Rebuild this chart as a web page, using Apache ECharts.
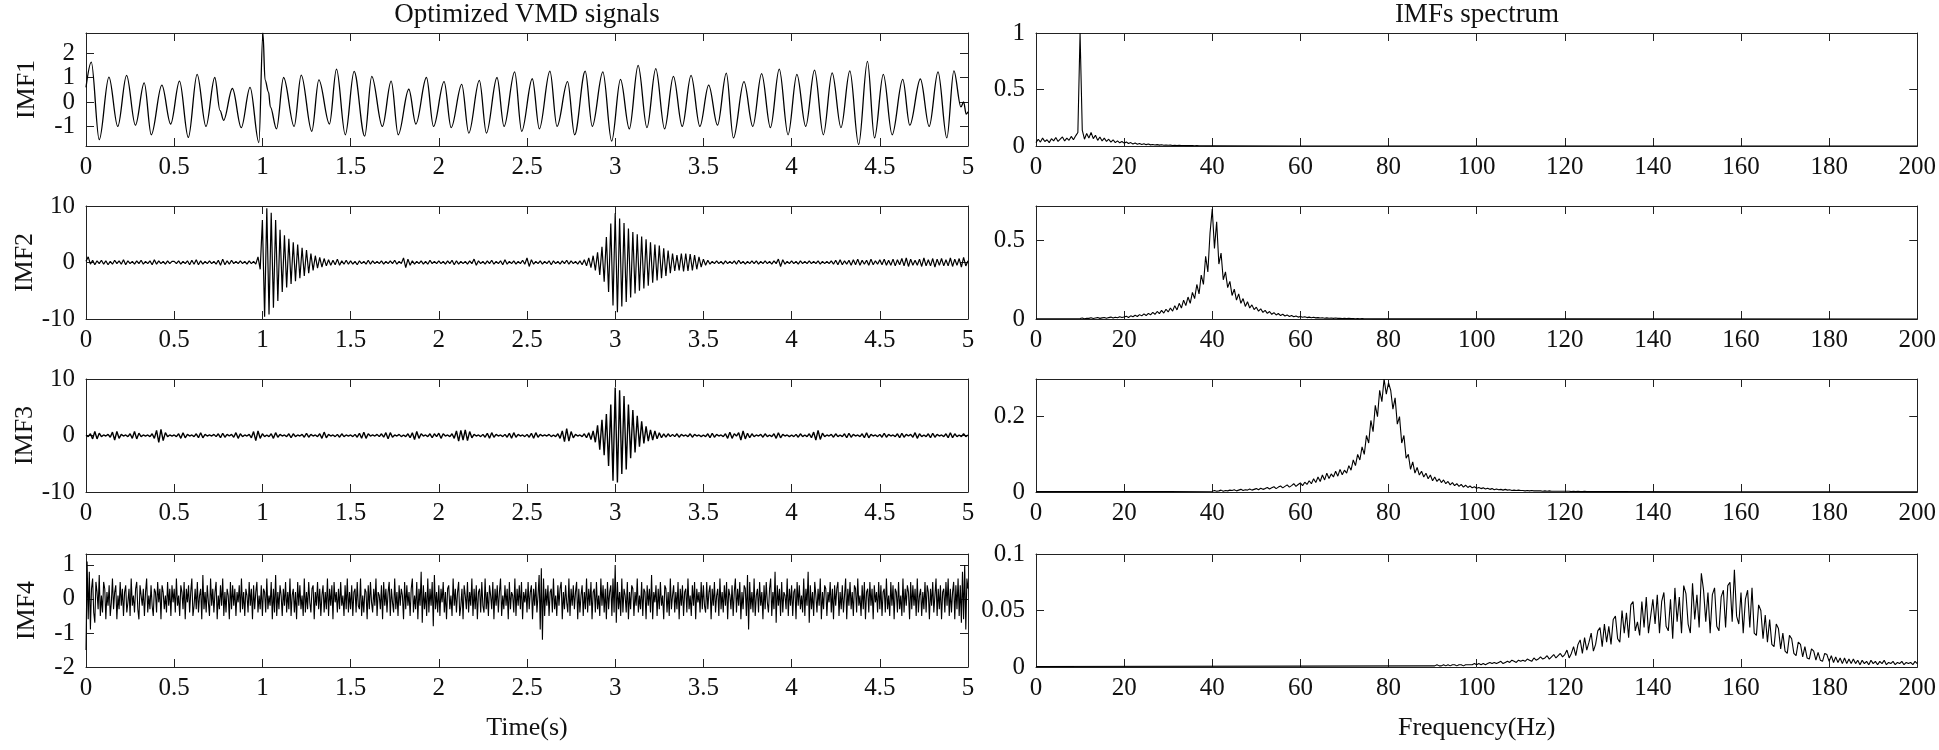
<!DOCTYPE html>
<html>
<head>
<meta charset="utf-8">
<script src="https://cdn.jsdelivr.net/npm/echarts@6/dist/echarts.min.js"></script>
<style>
html,body{margin:0;padding:0;background:#fff;}
#chart{width:1939px;height:750px;}
</style>
</head>
<body>
<div id="chart"></div>
<script>
// ---------------- DATA ----------------
const panelNamesLeft = ['IMF1', 'IMF2', 'IMF3', 'IMF4'];
const titleLeft = 'Optimized VMD signals';
const titleRight = 'IMFs spectrum';
const xNameLeft = 'Time(s)';
const xNameRight = 'Frequency(Hz)';

// y tick labels
const imf1Ticks = [-1, 0, 1, 2];
const imf2Ticks = [-10, 0, 10];
const imf3Ticks = [-10, 0, 10];
const imf4Ticks = [-2, -1, 0, 1];
const spec1Ticks = [0, 0.5, 1];
const spec2Ticks = [0, 0.5];
const spec3Ticks = [0, 0.2];
const spec4Ticks = [0, 0.05, 0.1];

// y ranges
const imf1Range = [-1.8, 2.82];
const imf2Range = [-10, 10];
const imf3Range = [-10, 10];
const imf4Range = [-2, 1.32];
const spec1Range = [0, 1];
const spec2Range = [0, 0.72];
const spec3Range = [0, 0.3];
const spec4Range = [0, 0.1];

// IMF1: [time, value] at its peaks and troughs
const imf1 = [[0,0.6],[0.03,1.63],[0.075,-1.54],[0.13,1.02],[0.18,-1.0],[0.23,1.09],[0.28,-0.95],[0.33,0.78],[0.37,-1.34],[0.43,0.69],[0.48,-0.9],[0.53,0.85],[0.58,-1.45],[0.63,1.13],[0.68,-1.0],[0.73,1.0],[0.76,-0.35],[0.78,-0.75],[0.83,0.55],[0.88,-1.05],[0.93,0.6],[0.98,-1.66],[1.003,2.82],[1.015,0.9],[1.035,0.4],[1.045,-0.2],[1.08,-1.1],[1.12,1.0],[1.18,-1.0],[1.22,1.1],[1.28,-1.2],[1.32,0.9],[1.38,-0.9],[1.42,1.34],[1.47,-1.34],[1.52,1.25],[1.58,-1.4],[1.62,1.05],[1.68,-1.0],[1.73,0.85],[1.77,-1.34],[1.83,0.52],[1.87,-0.9],[1.93,1.0],[1.97,-1.0],[2.03,0.83],[2.07,-1.05],[2.13,0.72],[2.17,-1.27],[2.23,0.88],[2.27,-1.27],[2.33,1.0],[2.37,-1.0],[2.43,1.23],[2.47,-1.2],[2.53,0.95],[2.57,-1.1],[2.63,1.26],[2.67,-1.0],[2.73,0.83],[2.77,-1.34],[2.83,1.26],[2.87,-1.0],[2.93,1.23],[2.98,-1.6],[3.03,0.92],[3.08,-1.1],[3.13,1.5],[3.18,-1.05],[3.23,1.36],[3.28,-1.1],[3.33,1.05],[3.38,-1.0],[3.43,1.09],[3.48,-1.0],[3.53,0.69],[3.58,-0.95],[3.63,1.18],[3.67,-1.47],[3.73,0.83],[3.78,-1.0],[3.83,1.16],[3.88,-1.05],[3.93,1.34],[3.98,-1.34],[4.03,1.13],[4.08,-1.0],[4.13,1.3],[4.18,-1.34],[4.23,1.19],[4.28,-1.05],[4.33,1.27],[4.38,-1.74],[4.43,1.66],[4.47,-1.47],[4.52,1.13],[4.57,-1.34],[4.63,0.92],[4.67,-0.95],[4.73,0.94],[4.78,-1.0],[4.83,1.23],[4.88,-1.47],[4.92,1.27],[4.96,-0.2],[4.975,0.0],[4.99,-0.5],[5.0,-0.4]];

// IMF2, IMF3: samples every 0.0125 s, one row = 0.5 s
const imfStep = 0.0125;
const imf2 = [
0.2,1.0,-0.3,0.4,-0.4,0.3,-0.2,0.4,-0.3,0.3,-0.4,0.2,-0.3,0.4,-0.2,0.3,-0.3,0.5,-0.4,0.3,-0.2,0.2,-0.3,0.3,-0.2,0.4,-0.3,0.2,-0.2,0.3,-0.4,0.5,-0.3,0.3,-0.2,0.2,-0.3,0.3,-0.2,0.2,
0.2,-0.2,0.3,-0.3,0.2,-0.2,0.3,-0.4,0.4,-0.3,0.5,-0.4,0.3,-0.3,0.2,-0.2,0.3,-0.2,0.2,-0.3,0.4,-0.5,0.6,-0.4,0.3,-0.3,0.4,-0.2,0.2,-0.2,0.3,-0.2,0.2,-0.3,0.3,-0.2,0.2,-0.3,1.0,-1.2,
7.5,-9.6,9.6,-9.2,8.8,-8.0,7.5,-6.8,5.8,-5.2,4.8,-4.4,4.2,-3.8,3.6,-3.3,3.2,-2.8,2.6,-2.4,2.2,-1.9,1.6,-1.4,1.2,-1.0,0.9,-0.8,0.7,-0.6,0.5,-0.5,0.4,-0.4,0.6,-0.5,0.3,-0.3,0.4,-0.3,
0.3,-0.3,0.2,-0.4,0.3,-0.2,0.2,-0.3,0.4,-0.3,0.3,-0.2,0.2,-0.2,0.3,-0.3,0.2,-0.2,0.3,-0.2,0.4,-0.3,0.2,-0.2,0.8,-0.9,0.6,-0.5,0.3,-0.3,0.2,-0.2,0.3,-0.3,0.2,-0.3,0.4,-0.2,0.2,-0.2,
0.3,-0.2,0.2,-0.3,0.3,-0.2,0.4,-0.4,0.3,-0.3,0.2,-0.2,0.2,-0.3,0.3,-0.2,0.6,-0.5,0.3,-0.2,0.2,-0.3,0.3,-0.2,0.4,-0.3,0.2,-0.2,0.3,-0.4,0.5,-0.3,0.2,-0.2,0.3,-0.3,0.2,-0.2,0.4,-0.3,
0.8,-0.7,0.5,-0.3,0.2,-0.2,0.3,-0.3,0.2,-0.2,0.3,-0.4,0.3,-0.2,0.2,-0.3,0.3,-0.2,0.4,-0.3,0.3,-0.2,0.2,-0.3,0.3,-0.4,0.5,-0.6,0.8,-0.9,1.2,-1.4,1.8,-2.2,2.8,-3.4,4.5,-5.2,6.9,-7.6,
8.7,-8.8,7.8,-7.8,7.0,-7.0,6.0,-6.2,5.4,-5.5,5.0,-5.0,4.6,-4.6,4.1,-4.1,3.6,-3.6,3.2,-3.2,3.0,-2.8,2.5,-2.4,2.1,-1.9,1.6,-1.5,1.3,-1.4,1.6,-1.6,1.6,-1.5,1.5,-1.4,1.3,-1.2,1.0,-0.8,
0.6,-0.5,0.4,-0.3,0.2,-0.2,0.3,-0.2,0.2,-0.3,0.3,-0.2,0.2,-0.2,0.3,-0.3,0.4,-0.2,0.2,-0.3,0.2,-0.2,0.3,-0.2,0.3,-0.3,0.2,-0.2,0.3,-0.2,0.2,-0.3,0.3,-0.2,0.6,-0.7,0.5,-0.3,0.2,-0.2,
0.3,-0.2,0.2,-0.3,0.3,-0.2,0.2,-0.2,0.3,-0.2,0.2,-0.2,0.3,-0.3,0.2,-0.2,0.2,-0.2,0.3,-0.3,0.4,-0.4,0.5,-0.4,0.3,-0.3,0.4,-0.5,0.5,-0.4,0.6,-0.5,0.4,-0.3,0.4,-0.5,0.6,-0.4,0.3,-0.3,
0.5,-0.4,0.6,-0.5,0.4,-0.5,0.6,-0.6,0.5,-0.4,0.7,-0.6,0.8,-0.7,0.6,-0.5,0.4,-0.5,0.6,-0.7,0.8,-0.6,0.5,-0.6,0.7,-0.8,0.6,-0.5,0.7,-0.6,0.5,-0.6,0.8,-0.7,0.6,-0.5,0.7,-0.8,0.9,-0.6,
0.3];

const imf3 = [
0.1,-0.2,0.3,-0.6,0.7,-0.6,0.4,-0.2,0.1,-0.1,0.2,-0.3,0.6,-0.8,0.7,-0.5,0.2,-0.1,0.1,-0.2,0.3,-0.5,0.7,-0.6,0.4,-0.2,0.1,-0.1,0.1,-0.2,0.3,-0.5,0.9,-1.2,1.1,-0.9,0.5,-0.2,0.1,-0.1,
0.1,-0.2,0.3,-0.5,0.5,-0.4,0.2,-0.1,0.1,-0.2,0.3,-0.4,0.5,-0.4,0.2,-0.1,0.1,-0.1,0.2,-0.2,0.3,-0.4,0.4,-0.3,0.2,-0.1,0.2,-0.3,0.5,-0.5,0.3,-0.2,0.1,-0.1,0.2,-0.4,0.7,-0.9,0.8,-0.5,
0.3,-0.2,0.1,-0.2,0.3,-0.5,0.5,-0.3,0.2,-0.1,0.1,-0.2,0.3,-0.4,0.3,-0.2,0.1,-0.1,0.2,-0.3,0.4,-0.3,0.2,-0.1,0.1,-0.2,0.3,-0.5,0.6,-0.4,0.2,-0.1,0.1,-0.2,0.2,-0.3,0.3,-0.2,0.1,-0.1,
0.1,-0.2,0.2,-0.3,0.4,-0.5,0.6,-0.5,0.3,-0.1,0.1,-0.1,0.2,-0.2,0.3,-0.3,0.5,-0.6,0.5,-0.3,0.1,-0.1,0.2,-0.2,0.1,-0.2,0.3,-0.4,0.5,-0.7,0.7,-0.5,0.3,-0.1,0.1,-0.2,0.3,-0.4,0.3,-0.2,
0.4,-0.5,0.3,-0.1,0.1,-0.2,0.3,-0.5,0.8,-1.0,0.9,-0.8,1.0,-0.9,0.7,-0.4,0.2,-0.1,0.1,-0.2,0.2,-0.3,0.4,-0.5,0.5,-0.3,0.2,-0.1,0.1,-0.2,0.2,-0.3,0.4,-0.5,0.5,-0.3,0.2,-0.1,0.1,-0.2,
0.2,-0.3,0.4,-0.5,0.5,-0.3,0.2,-0.1,0.1,-0.1,0.2,-0.2,0.1,-0.2,0.3,-0.5,0.8,-1.1,1.2,-1.0,0.7,-0.4,0.2,-0.1,0.1,-0.2,0.3,-0.4,0.5,-0.7,0.8,-1.2,1.8,-2.5,2.8,-3.5,3.8,-5.4,5.5,-8.0,
8.5,-8.3,8.0,-6.8,7.0,-6.0,5.5,-4.0,4.5,-3.0,3.5,-2.0,2.5,-1.4,1.6,-1.0,1.0,-0.8,0.8,-0.6,0.5,-0.4,0.3,-0.3,0.3,-0.2,0.2,-0.2,0.3,-0.3,0.2,-0.1,0.1,-0.2,0.3,-0.3,0.2,-0.1,0.1,-0.2,
0.1,-0.2,0.3,-0.4,0.4,-0.3,0.2,-0.1,0.1,-0.2,0.3,-0.5,0.6,-0.5,0.3,-0.1,0.5,-0.8,0.8,-0.6,0.4,-0.4,0.3,-0.2,0.1,-0.1,0.2,-0.3,0.3,-0.2,0.1,-0.2,0.3,-0.5,0.5,-0.4,0.2,-0.1,0.1,-0.2,
0.1,-0.2,0.2,-0.3,0.3,-0.2,0.1,-0.2,0.3,-0.4,0.6,-0.8,0.9,-0.7,0.4,-0.2,0.1,-0.1,0.2,-0.3,0.3,-0.2,0.1,-0.2,0.3,-0.4,0.4,-0.3,0.2,-0.1,0.1,-0.2,0.3,-0.4,0.5,-0.4,0.2,-0.1,0.1,-0.2,
0.2,-0.3,0.4,-0.3,0.2,-0.1,0.1,-0.2,0.3,-0.4,0.4,-0.3,0.2,-0.1,0.2,-0.3,0.5,-0.5,0.3,-0.2,0.1,-0.2,0.3,-0.4,0.4,-0.3,0.2,-0.1,0.1,-0.2,0.3,-0.4,0.5,-0.4,0.3,-0.2,0.1,-0.2,0.3,-0.2,
0.1];

// IMF4: samples every 0.00625 s, one row = 0.5 s (4 lines of 20)
const imf4Step = 0.00625;
const imf4 = [
-1.5,1.1,-0.6,0.8,-0.9,0.3,0.6,-0.4,-0.7,0.5,0.2,-0.3,0.7,-0.5,0.1,-0.4,0.5,0.3,-0.6,0.2,
-0.2,0.4,-0.5,-0.1,0.6,-0.3,0.2,0.4,-0.6,0.1,-0.3,0.5,-0.2,0.3,-0.5,0.2,0.4,-0.4,-0.1,0.3,
-0.5,0.6,-0.2,0.1,-0.4,0.3,0.5,-0.3,-0.6,0.4,0.1,-0.2,0.3,-0.5,0.2,0.6,-0.4,0.1,-0.3,0.4,
-0.2,-0.5,0.3,0.2,-0.4,0.5,-0.1,0.3,-0.6,0.4,0.2,-0.3,0.1,-0.4,0.5,-0.2,0.3,-0.5,0.4,-0.1,
0.3,-0.4,0.6,-0.2,0.1,-0.5,0.4,0.2,-0.3,0.5,-0.6,0.3,-0.1,0.4,-0.4,0.2,0.6,-0.5,-0.2,0.3,
-0.3,0.5,-0.4,0.1,0.3,-0.6,0.7,-0.3,0.2,-0.4,0.4,-0.1,-0.5,0.6,-0.2,0.3,-0.4,0.2,0.5,-0.6,
0.1,-0.3,0.4,-0.2,0.6,-0.5,0.2,-0.4,0.3,0.1,-0.6,0.5,-0.3,0.4,-0.2,0.3,-0.5,0.2,-0.1,0.4,
-0.4,0.6,-0.3,0.2,-0.5,0.3,0.1,-0.4,0.5,-0.2,0.3,-0.6,0.4,-0.3,0.2,0.5,-0.4,0.1,-0.3,0.4,
-0.5,0.3,0.2,-0.4,0.6,-0.3,0.1,-0.2,0.5,-0.6,0.3,-0.4,0.7,-0.5,0.2,-0.3,0.4,0.1,-0.5,0.3,
-0.2,0.5,-0.4,0.2,-0.3,0.6,-0.5,0.1,0.3,-0.4,0.2,-0.6,0.5,-0.2,0.4,-0.3,0.1,-0.5,0.6,-0.4,
0.2,-0.3,0.5,-0.1,-0.4,0.3,0.4,-0.6,0.2,-0.2,0.5,-0.3,0.3,-0.5,0.1,0.4,-0.4,0.2,-0.3,0.6,
-0.5,0.3,-0.2,0.4,-0.6,0.5,-0.1,0.2,-0.4,0.3,-0.3,0.5,-0.2,0.1,-0.5,0.4,-0.3,0.6,-0.4,0.2,
-0.3,0.4,-0.5,0.2,0.3,-0.4,0.5,-0.2,-0.3,0.6,-0.5,0.1,-0.4,0.3,0.2,-0.6,0.4,-0.3,0.5,-0.1,
-0.4,0.3,-0.2,0.6,-0.5,0.2,0.1,-0.3,0.4,-0.6,0.5,-0.2,0.3,-0.4,0.2,0.5,-0.5,0.3,-0.1,-0.4,
0.6,-0.3,0.2,-0.5,0.4,-0.2,0.3,0.1,-0.6,0.5,-0.3,0.4,-0.2,0.2,-0.5,0.3,0.6,-0.4,0.1,-0.3,
0.5,-0.6,0.3,-0.2,0.8,-0.7,0.4,-0.3,0.2,-0.5,0.6,-0.4,0.3,-0.2,0.5,-0.8,0.7,-0.3,0.2,-0.4,
0.4,-0.5,0.3,-0.1,0.5,-0.4,0.2,-0.6,0.3,0.4,-0.3,0.1,-0.5,0.6,-0.2,0.3,-0.4,0.2,0.5,-0.5,
-0.2,0.3,-0.6,0.4,0.1,-0.3,0.5,-0.4,0.2,-0.2,0.6,-0.5,0.3,-0.3,0.4,-0.6,0.2,0.3,-0.4,0.5,
-0.2,-0.4,0.6,-0.3,0.2,-0.5,0.4,0.1,-0.3,0.5,-0.6,0.3,-0.2,0.4,-0.4,0.2,0.6,-0.5,0.1,-0.3,
0.4,-0.2,0.3,-0.6,0.5,-0.3,0.2,0.1,-0.4,0.6,-0.5,0.3,-0.2,0.4,-0.3,0.5,-0.6,0.2,-0.1,0.3,
-0.4,0.5,-0.3,0.2,0.4,-0.6,0.3,-0.2,0.5,-0.4,0.1,0.7,-0.9,0.9,-1.2,0.6,-0.5,0.3,-0.2,0.4,
-0.5,0.2,0.3,-0.4,0.6,-0.3,0.1,-0.5,0.4,-0.2,0.3,0.5,-0.6,0.2,-0.3,0.4,-0.1,-0.4,0.6,-0.5,
0.3,-0.2,0.4,-0.3,0.2,0.5,-0.6,0.3,-0.4,0.1,0.4,-0.5,0.2,-0.3,0.6,-0.4,0.3,-0.2,0.5,-0.6,
0.2,0.3,-0.4,0.5,-0.3,0.1,-0.5,0.6,-0.2,0.4,-0.4,0.3,-0.6,0.5,-0.3,0.2,0.4,-0.5,0.6,-0.4,
1.0,-0.7,0.5,-0.3,0.2,-0.5,0.6,-0.4,0.3,0.1,-0.4,0.5,-0.6,0.2,-0.3,0.4,0.3,-0.5,0.2,-0.2,
0.6,-0.4,0.1,-0.3,0.5,-0.5,0.3,0.2,-0.6,0.4,-0.2,0.3,-0.4,0.7,-0.6,0.2,-0.1,0.4,-0.5,0.3,
-0.3,0.5,-0.2,0.1,-0.6,0.4,0.3,-0.4,0.2,-0.5,0.6,-0.3,0.1,0.4,-0.4,0.2,-0.3,0.5,-0.6,0.3,
-0.2,0.4,-0.5,0.2,0.3,-0.4,0.6,-0.3,0.1,-0.5,0.4,-0.2,0.5,-0.6,0.3,-0.1,0.2,-0.4,0.5,-0.3,
0.4,-0.2,-0.4,0.5,-0.3,0.2,0.4,-0.6,0.3,-0.2,0.5,-0.4,0.1,0.3,-0.5,0.6,-0.3,0.2,-0.4,0.4,
-0.2,0.5,-0.6,0.3,0.1,-0.3,0.4,-0.5,0.2,0.6,-0.4,0.3,-0.2,0.5,-0.6,0.2,-0.3,0.4,0.3,-0.5,
0.7,-0.9,0.5,-0.3,0.2,-0.4,0.6,-0.5,0.1,0.3,-0.4,0.5,-0.2,0.2,-0.6,0.4,-0.3,0.5,-0.1,-0.4,
0.3,0.6,-0.5,0.2,-0.3,0.8,-0.7,0.4,-0.2,0.3,-0.5,0.5,-0.4,0.2,0.1,-0.3,0.6,-0.5,0.3,-0.2,
0.4,-0.5,0.2,0.3,-0.6,0.5,-0.2,0.4,-0.3,0.1,-0.4,0.6,-0.5,0.3,-0.2,0.8,-0.7,0.4,-0.3,0.2,
-0.5,0.5,0.1,-0.4,0.3,-0.2,0.6,-0.6,0.2,-0.3,0.4,0.3,-0.5,0.2,-0.1,0.5,-0.4,0.3,-0.6,0.4,
-0.2,0.3,0.5,-0.5,0.2,-0.3,0.4,-0.4,0.1,0.6,-0.6,0.3,-0.2,0.5,-0.3,0.2,-0.5,0.4,0.3,-0.4,
0.6,-0.2,0.1,-0.5,0.4,-0.3,0.5,-0.6,0.2,0.3,-0.4,0.5,-0.2,0.3,-0.6,0.4,-0.1,0.2,-0.4,0.5,
-0.3,0.4,-0.5,0.2,0.3,-0.4,0.6,-0.3,0.1,-0.5,0.5,-0.2,0.4,-0.6,0.3,0.2,-0.4,0.5,-0.3,0.1,
-0.5,0.6,-0.4,0.3,-0.2,0.4,0.2,-0.6,0.5,-0.3,0.4,-0.2,0.3,-0.5,0.6,-0.4,0.1,0.3,-0.5,0.2,
-0.3,0.5,-0.4,0.4,0.2,-0.6,0.3,-0.2,0.5,-0.4,0.1,0.6,-0.5,0.3,-0.3,0.4,-0.6,0.2,0.3,-0.4,
0.5,-0.2,0.6,-0.5,0.3,-0.4,0.2,0.5,-0.6,0.4,-0.3,0.6,-0.5,0.4,-0.7,0.8,-0.6,1.0,-0.9,0.6,
0.3];

// Spectra: dense part sampled every 0.5 Hz from a start frequency, plus sparse flat ends [Hz, value]
const specStep = 0.5;
const spec1Start = 0;
const spec1 = [0.03,0.06,0.035,0.07,0.04,0.055,0.03,0.065,0.045,0.075,0.04,0.06,0.08,0.045,0.07,0.05,0.085,0.055,0.09,0.12,
1.0,0.14,0.06,0.11,0.07,0.12,0.065,0.095,0.05,0.08,0.045,0.07,0.04,0.06,0.035,0.055,0.03,0.045,0.028,0.04,
0.025,0.035,0.022,0.03,0.018,0.026,0.016,0.022,0.014,0.02,0.012,0.017,0.01,0.014,0.009,0.012,0.008,0.011,0.007,0.009,
0.006,0.008,0.005,0.007,0.004,0.006,0.004,0.005,0.003,0.004,0.003,0.004,0.002,0.003,0.002,0.002,0.002,0.001,0.002,0.001,0.001];
const spec1Head = [];
const spec1Tail = [[60,0.0005],[200,0.0003]];

const spec2Start = 10;
const spec2 = [0.003,0.006,0.002,0.005,0.004,0.008,0.003,0.006,0.009,0.004,0.007,0.01,0.005,0.009,0.012,0.006,0.011,0.008,0.014,0.009,0.013,
0.017,0.01,0.02,0.014,0.024,0.016,0.028,0.02,0.033,0.022,0.036,0.027,0.042,0.03,0.048,0.034,0.055,0.038,0.062,0.045,
0.07,0.05,0.085,0.058,0.1,0.07,0.12,0.085,0.14,0.1,0.17,0.13,0.22,0.16,0.28,0.22,0.4,0.3,0.55,0.7,
0.45,0.62,0.35,0.42,0.25,0.3,0.2,0.24,0.15,0.19,0.12,0.16,0.1,0.13,0.08,0.11,0.07,0.09,0.06,0.075,
0.05,0.065,0.042,0.055,0.036,0.048,0.03,0.04,0.026,0.035,0.022,0.03,0.019,0.026,0.016,0.022,0.014,0.019,0.012,0.016,
0.011,0.014,0.009,0.012,0.008,0.011,0.007,0.009,0.006,0.008,0.005,0.007,0.005,0.006,0.004,0.006,0.004,0.005,0.003,0.004,
0.003,0.004,0.003,0.003,0.002,0.003,0.002,0.003,0.002,0.002,0.002,0.002,0.001,0.002,0.001,0.001,0.001,0.001,0.001,0.001];
const spec2Head = [[0,0.002],[5,0.002]];
const spec2Tail = [[120,0.0005],[200,0.0003]];

const spec3Start = 40;
const spec3 = [0.002,0.004,0.002,0.003,0.005,0.002,0.004,0.003,0.005,0.004,0.006,0.003,0.005,0.007,0.004,0.006,0.005,0.008,0.005,0.007,0.009,
0.006,0.01,0.007,0.009,0.012,0.008,0.011,0.014,0.009,0.013,0.016,0.011,0.015,0.019,0.013,0.017,0.022,0.015,0.02,0.024,
0.017,0.026,0.02,0.03,0.022,0.035,0.025,0.04,0.028,0.045,0.032,0.05,0.036,0.048,0.04,0.055,0.042,0.06,0.046,0.058,
0.05,0.07,0.058,0.085,0.07,0.1,0.085,0.12,0.1,0.15,0.13,0.19,0.16,0.23,0.2,0.27,0.24,0.3,0.26,0.29,
0.27,0.22,0.25,0.18,0.2,0.13,0.15,0.09,0.1,0.06,0.08,0.05,0.065,0.045,0.055,0.04,0.05,0.035,0.045,0.03,
0.04,0.028,0.035,0.025,0.032,0.022,0.028,0.019,0.025,0.017,0.022,0.015,0.02,0.013,0.018,0.012,0.016,0.011,0.014,0.01,
0.012,0.009,0.011,0.008,0.01,0.007,0.009,0.006,0.008,0.006,0.007,0.005,0.007,0.005,0.006,0.004,0.005,0.004,0.005,0.004,
0.004,0.003,0.004,0.003,0.004,0.003,0.003,0.003,0.003,0.002,0.003,0.002,0.003,0.002,0.002,0.002,0.002,0.002,0.002,0.002,
0.002,0.002,0.001,0.002,0.001,0.002,0.001,0.001,0.002,0.001,0.001,0.001,0.001,0.001,0.001,0.001,0.001,0.001,0.001,0.001];
const spec3Head = [[0,0.001],[20,0.001]];
const spec3Tail = [[160,0.0005],[200,0.0003]];

const spec4Start = 90;
const spec4 = [0.001,0.001,0.002,0.001,0.001,0.002,0.001,0.002,0.001,0.002,0.002,0.001,0.002,0.002,0.001,0.002,0.002,0.002,0.002,0.003,0.002,
0.003,0.002,0.003,0.002,0.003,0.004,0.003,0.004,0.003,0.004,0.005,0.003,0.004,0.005,0.004,0.006,0.005,0.004,0.006,0.005,
0.006,0.005,0.007,0.006,0.005,0.008,0.006,0.007,0.009,0.007,0.008,0.01,0.007,0.009,0.011,0.008,0.01,0.012,0.009,0.011,
0.015,0.008,0.012,0.018,0.01,0.02,0.024,0.012,0.026,0.015,0.022,0.03,0.014,0.02,0.032,0.035,0.018,0.038,0.022,0.036,
0.02,0.042,0.045,0.025,0.022,0.05,0.03,0.048,0.026,0.055,0.058,0.032,0.04,0.028,0.058,0.035,0.062,0.03,0.045,0.06,
0.038,0.064,0.03,0.058,0.066,0.036,0.032,0.06,0.025,0.07,0.04,0.062,0.03,0.072,0.065,0.038,0.03,0.074,0.042,0.064,
0.035,0.083,0.068,0.04,0.066,0.03,0.064,0.07,0.036,0.032,0.062,0.068,0.035,0.072,0.075,0.04,0.086,0.045,0.038,0.066,
0.03,0.06,0.068,0.035,0.07,0.03,0.028,0.055,0.05,0.025,0.046,0.022,0.042,0.02,0.018,0.038,0.034,0.016,0.03,0.014,
0.012,0.028,0.025,0.012,0.01,0.022,0.02,0.009,0.018,0.008,0.007,0.016,0.014,0.006,0.013,0.006,0.005,0.012,0.011,0.005,
0.01,0.004,0.009,0.004,0.008,0.003,0.008,0.003,0.007,0.003,0.007,0.003,0.006,0.002,0.006,0.003,0.005,0.002,0.006,0.003,
0.005,0.002,0.005,0.003,0.006,0.002,0.004,0.003,0.005,0.002,0.004,0.003,0.005,0.002,0.004,0.003,0.004,0.002,0.005,0.003];
const spec4Head = [[0,0.0005],[60,0.0008]];
const spec4Tail = [];

// ---------------- BUILD ----------------
function sampled(start, step, vals) {
  return vals.map((v, i) => [+(start + i * step).toFixed(5), v]);
}
const FONT = '"Liberation Serif", "Times New Roman", Times, serif';
const INK = '#111';

// labelGroups: tick labels split over stacked label-only axes so that none are dropped as overlapping
const leftPanels = [
  { name: panelNamesLeft[0], data: imf1, range: imf1Range, ticks: imf1Ticks, labelGroups: [[imf1Ticks[3], imf1Ticks[1]], [imf1Ticks[2], imf1Ticks[0]]], smooth: 0.35, lw: 1.3 },
  { name: panelNamesLeft[1], data: sampled(0, imfStep, imf2), range: imf2Range, ticks: imf2Ticks, smooth: false, lw: 1.2 },
  { name: panelNamesLeft[2], data: sampled(0, imfStep, imf3), range: imf3Range, ticks: imf3Ticks, smooth: false, lw: 1.4 },
  { name: panelNamesLeft[3], data: sampled(0, imf4Step, imf4), range: imf4Range, ticks: imf4Ticks, smooth: false, lw: 1.1 }
];
const rightPanels = [
  { data: spec1Head.concat(sampled(spec1Start, specStep, spec1), spec1Tail), range: spec1Range, ticks: spec1Ticks },
  { data: spec2Head.concat(sampled(spec2Start, specStep, spec2), spec2Tail), range: spec2Range, ticks: spec2Ticks },
  { data: spec3Head.concat(sampled(spec3Start, specStep, spec3), spec3Tail), range: spec3Range, ticks: spec3Ticks },
  { data: spec4Head.concat(sampled(spec4Start, specStep, spec4), spec4Tail), range: spec4Range, ticks: spec4Ticks }
];

const tops = [33, 206, 379, 554];
const H = 113;
const LEFT_X = 86, RIGHT_X = 1036, W = 882;

const grids = [], xAxes = [], yAxes = [], series = [];
const lineCol = '#222';

function labelStyle(vals) {
  return { show: true, customValues: vals, fontFamily: FONT, fontSize: 25, color: INK, margin: 11,
           hideOverlap: false, showMinLabel: true, showMaxLabel: true };
}

function addPanel(p, gx, gy, xmin, xmax, xint, yName, xName) {
  const gi = grids.length;
  grids.push({ left: gx, top: gy, width: W, height: H, containLabel: false });
  const common = {
    gridIndex: gi, type: 'value',
    axisLine: { show: true, onZero: false, lineStyle: { color: lineCol, width: 1 } },
    axisTick: { show: true, inside: true, length: 8, lineStyle: { color: lineCol, width: 1 } },
    splitLine: { show: false }
  };
  const xi = xAxes.length;
  xAxes.push(Object.assign({}, common, {
    position: 'bottom', min: xmin, max: xmax, interval: xint,
    axisLabel: { show: true, fontFamily: FONT, fontSize: 25, color: INK, margin: 9, hideOverlap: false, showMinLabel: true, showMaxLabel: true },
    name: xName || '', nameLocation: 'middle', nameGap: 48,
    nameTextStyle: { fontFamily: FONT, fontSize: 26, color: INK }
  }));
  xAxes.push(Object.assign({}, common, {
    position: 'top', min: xmin, max: xmax, interval: xint, axisLabel: { show: false }
  }));
  const groups = p.labelGroups || [p.ticks];
  const yi = yAxes.length;
  yAxes.push(Object.assign({}, common, {
    position: 'left', min: p.range[0], max: p.range[1],
    axisTick: Object.assign({}, common.axisTick, { customValues: p.ticks }),
    axisLabel: labelStyle(groups[0]),
    name: yName || '', nameLocation: 'middle', nameGap: 46, nameRotate: 90,
    nameTextStyle: { fontFamily: FONT, fontSize: 26, color: INK }
  }));
  yAxes.push(Object.assign({}, common, {
    position: 'right', min: p.range[0], max: p.range[1],
    axisTick: Object.assign({}, common.axisTick, { customValues: p.ticks }),
    axisLabel: { show: false }
  }));
  for (let g = 1; g < groups.length; g++) {
    yAxes.push({
      gridIndex: gi, type: 'value', position: 'left', offset: 0,
      min: p.range[0], max: p.range[1],
      axisLine: { show: false }, axisTick: { show: false }, splitLine: { show: false },
      axisLabel: labelStyle(groups[g])
    });
  }
  series.push({
    type: 'line', xAxisIndex: xi, yAxisIndex: yi, data: p.data,
    showSymbol: false, symbol: 'none', smooth: p.smooth || false, smoothMonotone: 'x',
    lineStyle: { color: '#000', width: p.lw || 1 }, sampling: null, animation: false,
    clip: true, silent: true
  });
}

leftPanels.forEach((p, i) => addPanel(p, LEFT_X, tops[i], 0, 5, 0.5, p.name, i === 3 ? xNameLeft : ''));
rightPanels.forEach((p, i) => addPanel(Object.assign({ lw: 1.1 }, p), RIGHT_X, tops[i], 0, 200, 20, '', i === 3 ? xNameRight : ''));

const chart = echarts.init(document.getElementById('chart'), null, { renderer: 'canvas' });
chart.setOption({
  backgroundColor: '#fff',
  animation: false,
  grid: grids, xAxis: xAxes, yAxis: yAxes, series: series,
  graphic: [
    { type: 'text', x: LEFT_X + W / 2, y: 15, style: { text: titleLeft, font: '27px ' + FONT, fill: INK, textAlign: 'center', textVerticalAlign: 'middle' } },
    { type: 'text', x: RIGHT_X + W / 2, y: 15, style: { text: titleRight, font: '27px ' + FONT, fill: INK, textAlign: 'center', textVerticalAlign: 'middle' } }
  ]
});
</script>
</body>
</html>
